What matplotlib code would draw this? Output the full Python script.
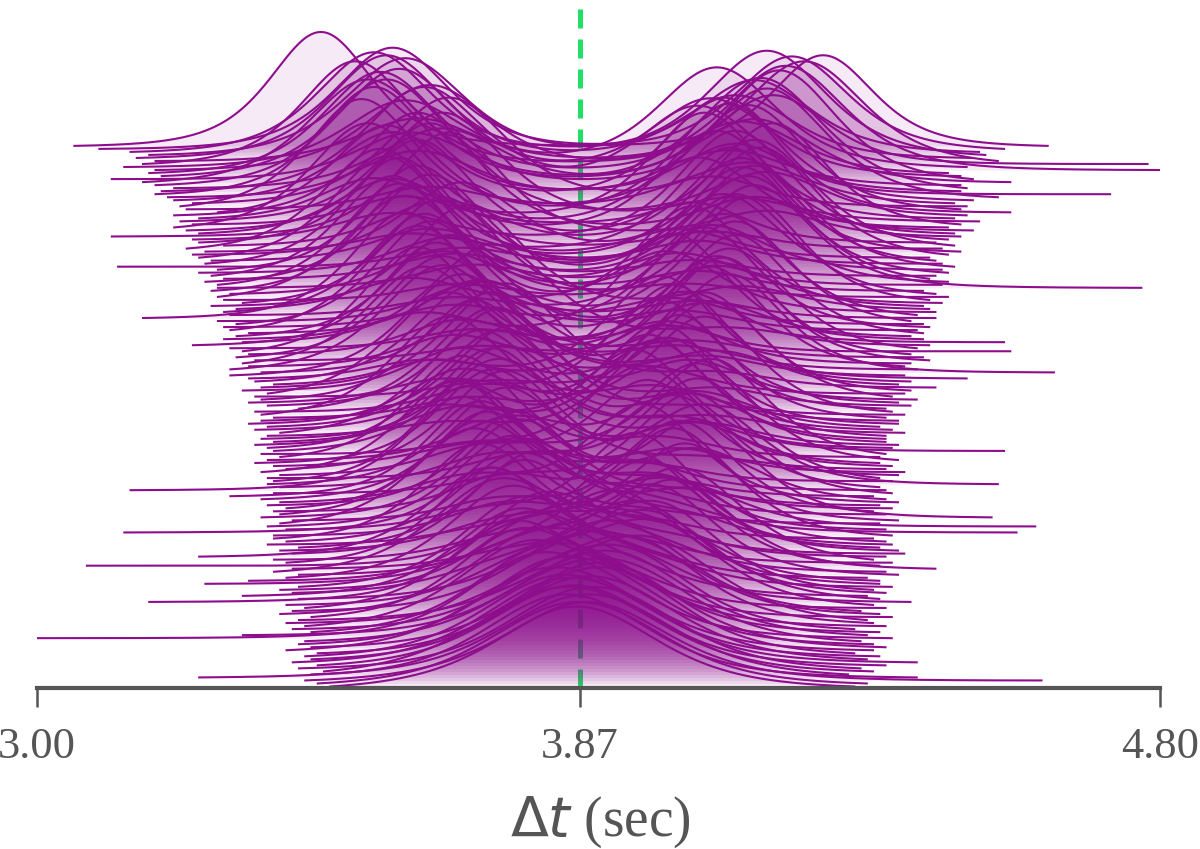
import numpy as np
import matplotlib
matplotlib.use("Agg")
import matplotlib.pyplot as plt

# ridgeline rows, index 0 = bottom row, 179 = top row
# lo / hi : left and right end of each row (sec)
lo = [3.47, 3.45, 3.43, 3.26, 3.44, 3.46, 3.42, 3.45, 3.41, 3.44,
      3.43, 3.45, 3.40, 3.44, 3.42, 3.43, 3.00, 3.33, 3.44, 3.41,
      3.43, 3.40, 3.42, 3.44, 3.39, 3.41, 3.43, 3.40, 3.18, 3.42,
      3.33, 3.41, 3.39, 3.42, 3.27, 3.34, 3.40, 3.42, 3.38, 3.41,
      3.08, 3.40, 3.38, 3.26, 3.41, 3.39, 3.42, 3.37, 3.40, 3.38,
      3.38, 3.14, 3.40, 3.37, 3.39, 3.41, 3.36, 3.39, 3.38, 3.40,
      3.37, 3.39, 3.36, 3.31, 3.38, 3.15, 3.39, 3.37, 3.38, 3.37,
      3.39, 3.36, 3.40, 3.38, 3.35, 3.37, 3.39, 3.36, 3.38, 3.37,
      3.35, 3.38, 3.36, 3.37, 3.39, 3.35, 3.37, 3.34, 3.36, 3.38,
      3.36, 3.35, 3.42, 3.37, 3.34, 3.36, 3.35, 3.37, 3.33, 3.36,
      3.38, 3.35, 3.34, 3.31, 3.36, 3.31, 3.34, 3.33, 3.35, 3.32,
      3.34, 3.33, 3.31, 3.25, 3.33, 3.30, 3.32, 3.34, 3.31, 3.30,
      3.32, 3.29, 3.17, 3.31, 3.30, 3.32, 3.28, 3.33, 3.30, 3.29,
      3.31, 3.28, 3.29, 3.29, 3.27, 3.30, 3.28, 3.26, 3.29, 3.13,
      3.27, 3.28, 3.26, 3.25, 3.27, 3.24, 3.30, 3.26, 3.25, 3.12,
      3.26, 3.24, 3.22, 3.25, 3.23, 3.26, 3.22, 3.29, 3.24, 3.23,
      3.25, 3.22, 3.21, 3.19, 3.20, 3.22, 3.19, 3.17, 3.12, 3.20,
      3.18, 3.19, 3.14, 3.17, 3.19, 3.16, 3.18, 3.15, 3.10, 3.06]

hi = [4.31, 4.33, 4.61, 4.41, 4.30, 4.34, 4.32, 4.36, 4.41, 4.33,
      4.35, 4.31, 4.34, 4.36, 4.34, 4.32, 4.37, 4.33, 4.35, 4.31,
      4.36, 4.34, 4.33, 4.37, 4.35, 4.32, 4.36, 4.34, 4.40, 4.35,
      4.33, 4.36, 4.34, 4.37, 4.35, 4.35, 4.33, 4.38, 4.36, 4.44,
      4.35, 4.37, 4.34, 4.36, 4.39, 4.38, 4.35, 4.37, 4.36, 4.34,
      4.37, 4.57, 4.36, 4.60, 4.35, 4.38, 4.53, 4.36, 4.34, 4.37,
      4.35, 4.38, 4.36, 4.34, 4.37, 4.36, 4.35, 4.54, 4.37, 4.35,
      4.38, 4.39, 4.36, 4.37, 4.35, 4.38, 4.35, 4.36, 4.55, 4.37,
      4.38, 4.36, 4.36, 4.36, 4.39, 4.37, 4.35, 4.38, 4.38, 4.36,
      4.39, 4.37, 4.36, 4.40, 4.38, 4.41, 4.37, 4.39, 4.40, 4.44,
      4.38, 4.40, 4.49, 4.39, 4.63, 4.41, 4.39, 4.40, 4.43, 4.42,
      4.40, 4.56, 4.41, 4.43, 4.55, 4.42, 4.40, 4.42, 4.41, 4.43,
      4.42, 4.40, 4.44, 4.41, 4.44, 4.43, 4.42, 4.45, 4.43, 4.46,
      4.44, 4.42, 4.77, 4.45, 4.46, 4.43, 4.44, 4.46, 4.45, 4.47,
      4.45, 4.44, 4.43, 4.46, 4.48, 4.45, 4.47, 4.44, 4.46, 4.48,
      4.47, 4.50, 4.46, 4.48, 4.51, 4.47, 4.49, 4.56, 4.48, 4.49,
      4.47, 4.50, 4.54, 4.72, 4.48, 4.49, 4.48, 4.56, 4.50, 4.48,
      4.46, 4.80, 4.49, 4.78, 4.54, 4.50, 4.52, 4.51, 4.55, 4.62]

# distance of left / right mode from 3.87
d_left = [0.03, 0.05, 0.02, 0.06, 0.04, 0.07, 0.03, 0.05, 0.06, 0.04,
          0.06, 0.04, 0.07, 0.03, 0.06, 0.05, 0.08, 0.04, 0.07, 0.05,
          0.09, 0.06, 0.04, 0.10, 0.08, 0.05, 0.11, 0.07, 0.09, 0.06,
          0.10, 0.12, 0.07, 0.09, 0.12, 0.06, 0.11, 0.08, 0.13, 0.10,
          0.08, 0.14, 0.11, 0.15, 0.09, 0.13, 0.07, 0.15, 0.10, 0.16,
          0.12, 0.09, 0.16, 0.11, 0.17, 0.13, 0.10, 0.16, 0.12, 0.15,
          0.10, 0.18, 0.13, 0.16, 0.11, 0.19, 0.14, 0.12, 0.18, 0.09,
          0.16, 0.20, 0.12, 0.18, 0.14, 0.11, 0.19, 0.15, 0.13, 0.20,
          0.14, 0.19, 0.12, 0.21, 0.16, 0.22, 0.13, 0.19, 0.11, 0.18,
          0.21, 0.15, 0.14, 0.13, 0.22, 0.17, 0.14, 0.21, 0.19, 0.12,
          0.23, 0.17, 0.25, 0.19, 0.14, 0.22, 0.20, 0.25, 0.16, 0.22,
          0.19, 0.26, 0.17, 0.23, 0.14, 0.25, 0.21, 0.16, 0.26, 0.20,
          0.24, 0.16, 0.28, 0.20, 0.25, 0.18, 0.27, 0.22, 0.19, 0.28,
          0.22, 0.27, 0.17, 0.29, 0.24, 0.20, 0.30, 0.21, 0.26, 0.19,
          0.29, 0.24, 0.31, 0.19, 0.27, 0.32, 0.22, 0.26, 0.30, 0.21,
          0.30, 0.24, 0.34, 0.28, 0.22, 0.33, 0.26, 0.31, 0.24, 0.35,
          0.21, 0.30, 0.26, 0.33, 0.25, 0.22, 0.31, 0.34, 0.27, 0.29,
          0.32, 0.24, 0.28, 0.36, 0.26, 0.31, 0.28, 0.33, 0.30, 0.415]

d_right = [0.02, 0.05, 0.04, 0.03, 0.06, 0.04, 0.07, 0.03, 0.05, 0.06,
           0.04, 0.07, 0.03, 0.06, 0.05, 0.08, 0.04, 0.07, 0.05, 0.08,
           0.06, 0.09, 0.11, 0.05, 0.10, 0.07, 0.06, 0.12, 0.08, 0.11,
           0.07, 0.09, 0.13, 0.11, 0.06, 0.14, 0.09, 0.12, 0.08, 0.15,
           0.13, 0.09, 0.16, 0.08, 0.14, 0.11, 0.17, 0.09, 0.15, 0.10,
           0.17, 0.13, 0.09, 0.18, 0.11, 0.15, 0.19, 0.10, 0.16, 0.12,
           0.17, 0.10, 0.19, 0.12, 0.18, 0.09, 0.15, 0.20, 0.11, 0.19,
           0.11, 0.16, 0.20, 0.10, 0.18, 0.19, 0.13, 0.21, 0.16, 0.09,
           0.20, 0.12, 0.18, 0.14, 0.21, 0.11, 0.19, 0.13, 0.21, 0.16,
           0.12, 0.20, 0.15, 0.22, 0.13, 0.18, 0.21, 0.11, 0.20, 0.22,
           0.15, 0.22, 0.13, 0.20, 0.24, 0.16, 0.21, 0.14, 0.23, 0.18,
           0.22, 0.14, 0.24, 0.17, 0.24, 0.15, 0.21, 0.25, 0.16, 0.20,
           0.15, 0.25, 0.19, 0.23, 0.14, 0.26, 0.18, 0.22, 0.27, 0.17,
           0.25, 0.19, 0.28, 0.16, 0.23, 0.27, 0.18, 0.26, 0.21, 0.28,
           0.19, 0.26, 0.16, 0.29, 0.24, 0.21, 0.28, 0.18, 0.25, 0.30,
           0.22, 0.28, 0.19, 0.31, 0.25, 0.20, 0.30, 0.24, 0.27, 0.21,
           0.27, 0.23, 0.30, 0.25, 0.19, 0.29, 0.24, 0.28, 0.32, 0.21,
           0.26, 0.33, 0.22, 0.31, 0.36, 0.25, 0.30, 0.28, 0.34, 0.39]

# width of each mode (sec)
width = [0.13, 0.125, 0.13, 0.12, 0.125, 0.13, 0.12, 0.125, 0.12, 0.125,
         0.12, 0.115, 0.125, 0.12, 0.115, 0.12, 0.11, 0.12, 0.115, 0.11,
         0.115, 0.11, 0.12, 0.105, 0.11, 0.115, 0.105, 0.11, 0.105, 0.115,
         0.105, 0.11, 0.10, 0.105, 0.11, 0.10, 0.105, 0.10, 0.11, 0.10,
         0.10, 0.095, 0.105, 0.10, 0.095, 0.10, 0.105, 0.095, 0.10, 0.095,
         0.095, 0.10, 0.09, 0.095, 0.10, 0.09, 0.095, 0.10, 0.09, 0.095,
         0.09, 0.095, 0.10, 0.09, 0.095, 0.09, 0.10, 0.095, 0.09, 0.095,
         0.095, 0.09, 0.095, 0.10, 0.09, 0.095, 0.09, 0.095, 0.10, 0.09,
         0.09, 0.095, 0.09, 0.095, 0.10, 0.09, 0.095, 0.09, 0.095, 0.09,
         0.095, 0.09, 0.10, 0.09, 0.095, 0.09, 0.095, 0.10, 0.09, 0.095,
         0.09, 0.095, 0.09, 0.095, 0.09, 0.10, 0.09, 0.095, 0.09, 0.095,
         0.095, 0.09, 0.095, 0.09, 0.10, 0.09, 0.095, 0.09, 0.095, 0.09,
         0.09, 0.095, 0.09, 0.10, 0.09, 0.095, 0.09, 0.095, 0.09, 0.10,
         0.095, 0.09, 0.095, 0.09, 0.095, 0.10, 0.09, 0.095, 0.09, 0.095,
         0.09, 0.095, 0.09, 0.095, 0.09, 0.095, 0.10, 0.09, 0.095, 0.09,
         0.095, 0.09, 0.095, 0.09, 0.10, 0.09, 0.095, 0.09, 0.095, 0.09,
         0.10, 0.095, 0.10, 0.09, 0.10, 0.105, 0.095, 0.10, 0.095, 0.10,
         0.095, 0.10, 0.10, 0.09, 0.10, 0.095, 0.10, 0.095, 0.095, 0.085]

# weight of the left mode
w_left = [0.50, 0.52, 0.48, 0.55, 0.47, 0.53, 0.49, 0.51, 0.56, 0.46,
          0.60, 0.40, 0.65, 0.35, 0.58, 0.42, 0.68, 0.33, 0.62, 0.38,
          0.72, 0.30, 0.25, 0.75, 0.55, 0.28, 0.78, 0.35, 0.70, 0.22,
          0.80, 0.20, 0.45, 0.82, 0.18, 0.65, 0.85, 0.25, 0.75, 0.15,
          0.30, 0.85, 0.20, 0.70, 0.88, 0.22, 0.78, 0.12, 0.60, 0.85,
          0.25, 0.80, 0.15, 0.72, 0.90, 0.18, 0.50, 0.82, 0.28, 0.76,
          0.88, 0.20, 0.65, 0.85, 0.14, 0.78, 0.25, 0.55, 0.86, 0.18,
          0.22, 0.80, 0.90, 0.15, 0.70, 0.30, 0.84, 0.12, 0.75, 0.40,
          0.82, 0.25, 0.68, 0.12, 0.86, 0.20, 0.74, 0.35, 0.88, 0.16,
          0.78, 0.22, 0.60, 0.85, 0.18, 0.72, 0.14, 0.80, 0.30, 0.88,
          0.20, 0.76, 0.15, 0.84, 0.45, 0.82, 0.24, 0.70, 0.12, 0.86,
          0.26, 0.80, 0.16, 0.66, 0.88, 0.20, 0.75, 0.35, 0.84, 0.18,
          0.80, 0.28, 0.86, 0.15, 0.62, 0.82, 0.22, 0.74, 0.14, 0.88,
          0.30, 0.84, 0.18, 0.76, 0.55, 0.20, 0.86, 0.25, 0.70, 0.16,
          0.82, 0.24, 0.78, 0.40, 0.15, 0.85, 0.30, 0.72, 0.20, 0.80,
          0.35, 0.76, 0.60, 0.22, 0.82, 0.28, 0.70, 0.45, 0.18, 0.78,
          0.72, 0.40, 0.30, 0.68, 0.55, 0.35, 0.75, 0.62, 0.30, 0.58,
          0.66, 0.45, 0.40, 0.60, 0.30, 0.62, 0.48, 0.58, 0.52, 0.556]

# ridge height in row units
height = [26.5, 27.0, 26.0, 27.5, 26.5, 28.0, 27.0, 26.5, 28.0, 27.5,
          27.0, 28.5, 27.5, 28.0, 29.0, 27.5, 28.5, 28.0, 29.5, 28.0,
          28.5, 29.0, 28.0, 29.5, 28.5, 30.0, 29.0, 28.5, 30.0, 29.5,
          29.0, 30.5, 29.5, 30.0, 31.0, 29.5, 30.5, 30.0, 31.0, 29.5,
          30.0, 31.5, 30.5, 29.5, 31.0, 30.0, 32.0, 30.5, 29.5, 31.5,
          30.5, 31.0, 32.0, 30.0, 31.5, 30.5, 32.5, 31.0, 30.0, 32.0,
          31.0, 32.5, 30.5, 31.5, 33.0, 31.0, 30.5, 32.0, 31.5, 33.0,
          31.5, 30.5, 32.5, 33.0, 31.0, 32.0, 33.5, 31.5, 30.5, 32.5,
          32.0, 33.5, 31.0, 32.5, 34.0, 31.5, 32.0, 33.0, 31.5, 34.0,
          32.5, 31.5, 33.5, 32.0, 34.0, 33.0, 31.5, 33.5, 32.5, 34.5,
          33.0, 32.0, 34.0, 33.5, 32.5, 34.5, 33.0, 32.0, 34.0, 33.5,
          32.5, 34.5, 33.0, 34.0, 32.5, 35.0, 33.5, 32.5, 34.5, 33.0,
          34.0, 33.0, 35.0, 33.5, 32.5, 34.5, 33.0, 35.0, 34.0, 33.5,
          33.0, 35.0, 34.0, 33.5, 35.5, 34.0, 33.0, 35.0, 34.5, 33.5,
          35.0, 34.0, 33.5, 35.5, 34.5, 33.0, 35.0, 34.0, 36.0, 34.5,
          34.0, 35.5, 34.5, 33.5, 36.0, 35.0, 34.0, 36.0, 34.5, 35.5,
          35.0, 34.0, 36.0, 35.5, 34.5, 36.5, 35.0, 34.0, 36.0, 35.5,
          33.5, 34.5, 33.0, 34.0, 33.0, 34.0, 34.5, 33.0, 33.5, 37.7]

true_dt = 3.87
tick_vals = [3.00, 3.87, 4.80]
tick_text = ['3.00', '3.87', '4.80']

line_col = '#8d0d8d'
fill_col = '#8d0d8d'
axis_col = '#555555'
green = '#22dd66'

plt.rcParams['mathtext.fontset'] = 'dejavusans'

fig = plt.figure(figsize=(12, 8.49), dpi=100)
ax = fig.add_axes([37 / 1200, 1 - 688 / 849, (1160 - 37) / 1200, 688 / 849])

n = len(lo)


def ridge(x, i):
    # two-mode heavy-tailed bump for row i
    nu = 4.0
    zl = (x - (true_dt - d_left[i])) / width[i]
    zr = (x - (true_dt + d_right[i])) / width[i]
    g = w_left[i] * (1 + zl ** 2 / nu) ** (-(nu + 1) / 2) \
        + (1 - w_left[i]) * (1 + zr ** 2 / nu) ** (-(nu + 1) / 2)
    g = g - np.interp(x, [x[0], x[-1]], [g[0], g[-1]])
    g = np.clip(g, 0, None)
    return g / g.max() * height[i]


for i in range(n - 1, -1, -1):
    x = np.linspace(lo[i], hi[i], 500)
    y = i + ridge(x, i)
    z = 2 + (n - i) / n
    ax.fill_between(x, i, y, color=fill_col, alpha=0.085, lw=0, zorder=z)
    ax.plot(x, y, color=line_col, lw=1.5, zorder=z + 0.0005)

ax.axvline(true_dt, color=green, lw=3.6, dashes=(3.8, 2.2), zorder=1)

ax.set_xlim(3.0, 4.8)
ax.set_ylim(-0.5, 227.3)
ax.set_yticks([])
for s in ['top', 'left', 'right']:
    ax.spines[s].set_visible(False)
ax.spines['bottom'].set_color(axis_col)
ax.spines['bottom'].set_linewidth(3.0)
ax.spines['bottom'].set_zorder(10)
ax.set_xticks(tick_vals, labels=tick_text)
ax.tick_params(axis='x', direction='out', length=14, width=1.8, color=axis_col,
               labelcolor=axis_col, labelsize=32, pad=14)
for lab in ax.get_xticklabels():
    lab.set_fontfamily('Liberation Serif')
ax.patch.set_alpha(0)

fig.text(0.5, 1 - 822 / 849, r'$\Delta t$ (sec)', ha='center', va='center',
         fontsize=40, color=axis_col, family='Liberation Serif')

fig.savefig('out.png', dpi=100)
